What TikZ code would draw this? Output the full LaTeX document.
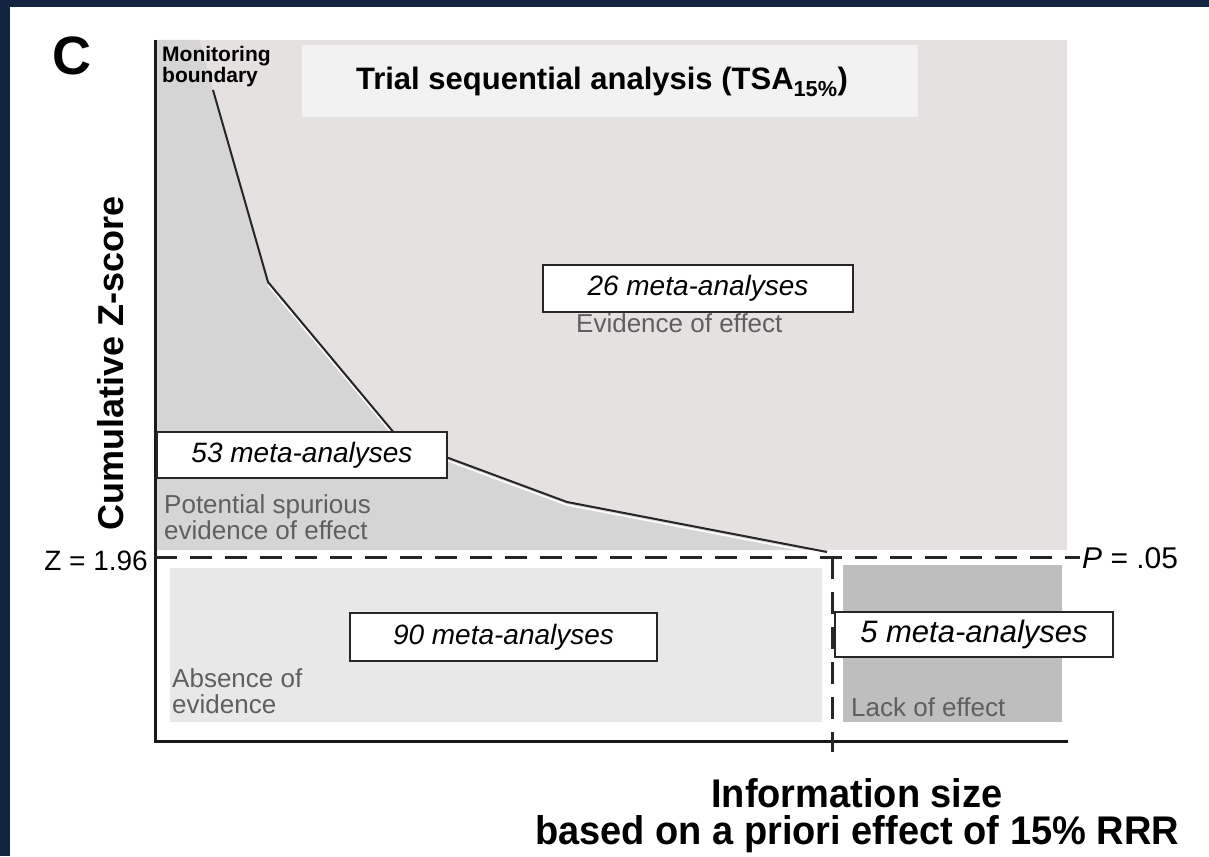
\documentclass[tikz,border=0pt]{standalone}
\usepackage{fontspec}
\usepackage{graphicx}
\setmainfont{Liberation Sans}
\definecolor{navy}{RGB}{18,36,64}
\definecolor{evid}{RGB}{228,225,224}
\definecolor{spur}{RGB}{213,213,213}
\definecolor{titlebg}{RGB}{243,242,242}
\definecolor{absence}{RGB}{232,232,232}
\definecolor{lack}{RGB}{190,190,190}
\definecolor{txtgray}{RGB}{95,95,95}
\newcommand{\fs}[1]{\fontsize{#1}{#1}\selectfont}
\tikzset{
  metabox/.style={draw=black!85, fill=white, line width=1.5pt, inner sep=0pt, font=\fs{28}\itshape},
  regionlabel/.style={text=txtgray, font=\fs{26}, inner sep=0pt, align=left},
  axisline/.style={line width=3pt, black!90},
  zline/.style={line width=3pt, black!85, dash pattern=on 22pt off 13pt},
}
\begin{document}
\begin{tikzpicture}[x=1pt,y=-1pt]
\useasboundingbox (0,0) rectangle (1209,856);
\fill[white] (0,0) rectangle (1209,856);
\fill[navy] (0,0) rectangle (1209,7);
\fill[navy] (0,0) rectangle (10,856);
% regions
\fill[evid] (157,40) rectangle (1067,550);
\coordinate (c0) at (199,40);
\coordinate (c1) at (213,90);
\coordinate (c2) at (268,282);
\coordinate (c3) at (400,440);
\coordinate (c4) at (567,502);
\coordinate (c5) at (827,552);
\fill[spur] (157,40) -- (c0) -- (c1) -- (c2) -- (c3) -- (c4) -- (c5) -- (827,550) -- (157,550) -- cycle;
\fill[titlebg] (302,45) rectangle (918,117);
\fill[absence] (170,568) rectangle (822,722);
\fill[lack] (843,565) rectangle (1062,722);
% boundary curve
\draw[white, line width=1.5pt] ([yshift=-3pt]c2) -- ([yshift=-3pt]c3) -- ([yshift=-3pt]c4) -- ([yshift=-3pt]c5);
\draw[line width=2pt, black!85, line join=round] (c1) -- (c2) -- (c3) -- (c4) -- (c5);
% axes
\coordinate (otop) at (155,40);
\coordinate (origin) at (155,741);
\coordinate (xend) at (1068,741);
\draw[axisline] (otop) -- (origin) -- (xend);
% Z line
\coordinate (zl) at (155,557);
\coordinate (zr) at (1080,557);
\coordinate (vt) at (832,557);
\coordinate (vb) at (832,752);
\draw[zline] (zl) -- (zr);
\draw[zline] (vt) -- (vb);
% labels
\node[font=\fs{54}\bfseries, inner sep=0pt] (C) at (72,56) {C};
\node[font=\fs{21}\bfseries, inner sep=0pt, align=left, anchor=north west] (mon) at (162,46) {\fontsize{21}{25}\selectfont Monitoring\\boundary};
\node[font=\fs{31}\bfseries, inner sep=0pt] (title) at (602,82) {Trial sequential analysis (TSA\textsubscript{15\%})};
\node[metabox, minimum width=310pt, minimum height=47pt] (b26) at (698,288.5) {26 meta-analyses};
\node[regionlabel, anchor=west] (ev) at (576,323) {Evidence of effect};
\node[metabox, minimum width=290pt, minimum height=46pt] (b53) at (302,455) {53 meta-analyses};
\node[regionlabel, anchor=north west] (pot) at (164,494) {\fontsize{26}{27}\selectfont Potential spurious\\evidence of effect};
\node[metabox, minimum width=307pt, minimum height=48pt] (b90) at (503.5,637) {90 meta-analyses};
\node[regionlabel, anchor=north west] (abs) at (172,668) {\fontsize{26}{22}\selectfont Absence of\\evidence};
\node[metabox, minimum width=278pt, minimum height=45pt, font=\fs{31}\itshape] (b5) at (974,634.5) {5 meta-analyses};
\node[regionlabel, anchor=west] (lack) at (851,707) {Lack of effect};
\node[font=\fs{28}, inner sep=0pt, anchor=east] (z) at (148,561) {Z = 1.96};
\node[font=\fs{30}, inner sep=0pt, anchor=west] (p) at (1082,558) {\textit{P} = .05};
\node[font=\fs{36}\bfseries, inner sep=0pt, rotate=90] (ylab) at (111,363) {Cumulative Z-score};
\node[font=\fs{40}\bfseries, inner sep=0pt] (x1) at (857,793) {\scalebox{0.95}[1]{Information size}};
\node[font=\fs{40}\bfseries, inner sep=0pt] (x2) at (857,834) {\scalebox{0.95}[1]{based on a priori effect of 15\% RRR}};
\end{tikzpicture}
\end{document}
